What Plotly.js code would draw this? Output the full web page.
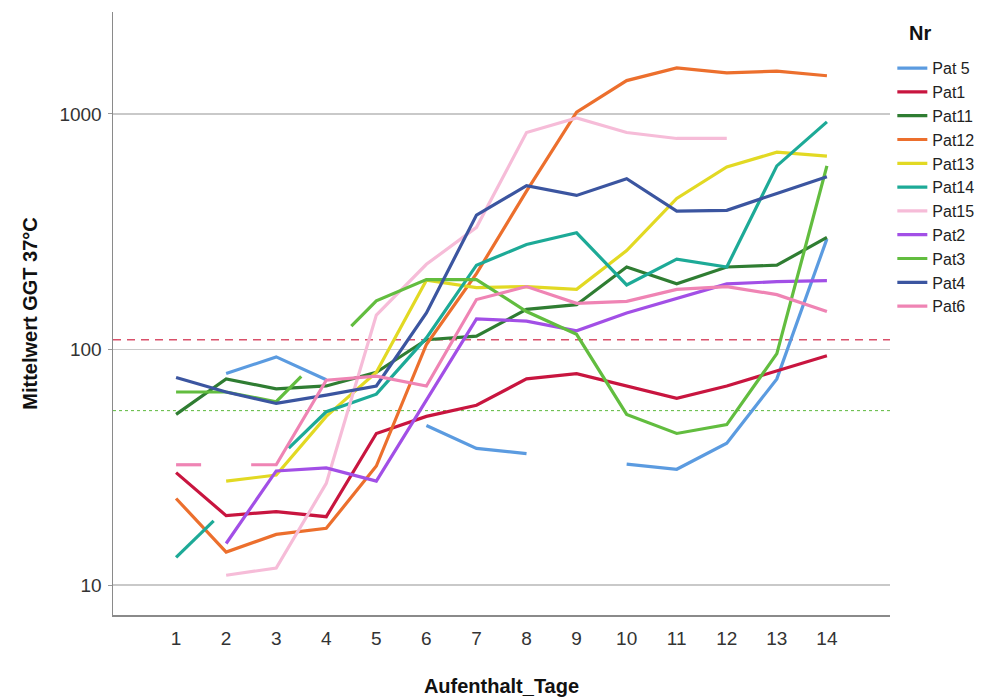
<!DOCTYPE html>
<html>
<head>
<meta charset="utf-8">
<script src="https://cdn.plot.ly/plotly-3.0.1.min.js"></script>
<style>
  html, body { margin: 0; padding: 0; background: #fff; }
  #chart { width: 987px; height: 698px; }
</style>
</head>
<body>
<div id="chart"></div>
<script>
// Aufenthalt (Tage) 1..14
const days = [1, 2, 3, 4, 5, 6, 7, 8, 9, 10, 11, 12, 13, 14];

// Mittelwert GGT 37°C je Patient und Tag (null = kein Wert)
const pat5  = [null, 79, 93, null, null, null, 38, null, null, null, 31, 40, 75, 295];
const pat1  = [30, 19.7, 20.5, 19.5, 44, 52, 58, 75, 79, 70, 62, 70, 81, 94];
const pat11 = [53, 75, 68, 70, 80, 110, 114, 148, 155, 224, 190, 224, 228, 299];
const pat12 = [23.3, 13.8, 16.4, 17.4, 32, 105, 210, 470, 1019, 1386, 1570, 1496, 1520, 1453];
const pat13 = [null, 27.6, 29.3, 52, 80, 197, 183, 185, 180, 263, 438, 596, 688, 662];
const pat14 = [13.1, null, null, 54.4, 64.6, 112, 228, 279, 313, 188, 242, 224, 602, 926];
const pat15 = [null, 11.0, 11.8, 27, 140, 230, 330, 834, 962, 834, 787, 787, null, null];
const pat2  = [null, 15.0, 30.5, 31.4, 27.6, 61, 135, 132, 120, 143, 165, 190, 194, 196];
const pat3  = [66, 66, 60, null, 161, 198, 198, 145, 116, 53, 44, 48, 96, 602];
const pat4  = [76, 66, 59, 64, 70, 143, 372, 496, 451, 531, 387, 390, 460, 541];
const pat6  = [32.4, null, 32.4, 74, 77, 70, 163, 185, 157, 160, 180, 185, 171, 145];

// Referenzlinien
const refUpper = 110;
const refLower = 55;

const seriesNames = ['Pat 5', 'Pat1', 'Pat11', 'Pat12', 'Pat13', 'Pat14', 'Pat15', 'Pat2', 'Pat3', 'Pat4', 'Pat6'];
const seriesValues = [pat5, pat1, pat11, pat12, pat13, pat14, pat15, pat2, pat3, pat4, pat6];
const seriesColors = ['#5b9be0', '#c8153f', '#2f7d32', '#ec6f2d', '#e2d923', '#1daa97',
                      '#f6bcd8', '#a24fe6', '#62bd3f', '#3b55a0', '#ef84b4'];

// Across missing days the line is only drawn for the first and last
// quarter of the span, leaving an open gap in the middle.
const STUB = 0.25;

function buildPath(xs, ys) {
  const px = [], py = [];
  let prev = -1;
  for (let j = 0; j < ys.length; j++) {
    if (ys[j] == null) continue;
    if (prev >= 0 && j - prev > 1) {
      const x0 = xs[prev], x1 = xs[j];
      const l0 = Math.log10(ys[prev]), l1 = Math.log10(ys[j]);
      const at = f => Math.pow(10, l0 + f * (l1 - l0));
      px.push(x0 + STUB * (x1 - x0)); py.push(at(STUB));
      px.push(null); py.push(null);
      px.push(x1 - STUB * (x1 - x0)); py.push(at(1 - STUB));
    }
    px.push(xs[j]); py.push(ys[j]);
    prev = j;
  }
  return { x: px, y: py };
}

const traces = seriesNames.map((name, i) => {
  const p = buildPath(days, seriesValues[i]);
  return {
    type: 'scatter',
    mode: 'lines',
    name: name,
    x: p.x,
    y: p.y,
    connectgaps: false,
    line: { color: seriesColors[i], width: 3.2 },
    hoverinfo: 'x+y+name'
  };
});

const font = 'Liberation Sans, Arial, Helvetica, sans-serif';

const layout = {
  width: 987,
  height: 698,
  margin: { l: 113, r: 97, t: 12, b: 83, autoexpand: false },
  paper_bgcolor: '#ffffff',
  plot_bgcolor: '#ffffff',
  font: { family: font, color: '#222' },
  showlegend: true,
  xaxis: {
    range: [-0.26, 15.26],
    tickmode: 'array',
    tickvals: days,
    ticktext: days.map(String),
    showgrid: false,
    zeroline: false,
    showline: true,
    linecolor: '#8a8a8a',
    linewidth: 1.5,
    ticks: '',
    ticklabelstandoff: 6,
    tickfont: { family: font, size: 19, color: '#333' },
    title: { text: '<b>Aufenthalt_Tage</b>', font: { family: font, size: 20, color: '#111' }, standoff: 30 }
  },
  yaxis: {
    type: 'log',
    range: [0.8726, 3.433],
    tickmode: 'array',
    tickvals: [10, 100, 1000],
    ticktext: ['10', '100', '1000'],
    showgrid: true,
    gridcolor: '#c9c9c9',
    gridwidth: 1.5,
    zeroline: false,
    showline: true,
    linecolor: '#8a8a8a',
    linewidth: 1.5,
    ticks: 'outside',
    ticklen: 4,
    tickcolor: '#9a9a9a',
    ticklabelstandoff: 2,
    tickfont: { family: font, size: 19, color: '#333' },
    title: { text: '<b>Mittelwert GGT 37°C</b>', font: { family: font, size: 20, color: '#111' }, standoff: 16 }
  },
  legend: {
    x: 1.003,
    xanchor: 'left',
    y: 0.935,
    yanchor: 'top',
    bgcolor: 'rgba(0,0,0,0)',
    font: { family: font, size: 16, color: '#222' }
  },
  annotations: [
    // legend heading
    { text: '<b>Nr</b>', xref: 'paper', yref: 'paper', x: 1.0385, y: 0.965,
      xanchor: 'center', yanchor: 'middle', showarrow: false,
      font: { family: font, size: 20, color: '#111' } }
  ],
  shapes: [
    { type: 'line', xref: 'paper', x0: 0, x1: 1, yref: 'y', y0: refUpper, y1: refUpper,
      line: { color: '#d9506a', width: 1.5, dash: '8px,6px' }, layer: 'below' },
    { type: 'line', xref: 'paper', x0: 0, x1: 1, yref: 'y', y0: refLower, y1: refLower,
      line: { color: '#5cb83c', width: 1, dash: '3px,3px' }, layer: 'below' }
  ]
};

Plotly.newPlot('chart', traces, layout, { staticPlot: true, displayModeBar: false });
</script>
</body>
</html>
